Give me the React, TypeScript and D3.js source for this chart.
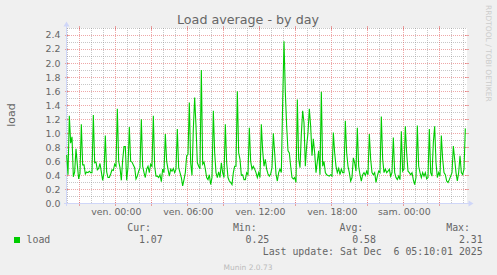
import React from 'react';
import * as d3 from 'd3';

// ---- data ----
const loadValues: number[] = [
  // Thu evening
  0.69, 0.41, 1.25, 0.86, 0.95, 0.38, 0.45, 0.78, 0.55, 0.35, 0.43, 1.13, 0.55, 0.55, 0.42, 0.45, 0.44, 0.46, 0.44, 0.44,
  1.26, 0.58, 0.59, 0.48, 0.5, 0.57, 0.45, 0.33, 0.44, 0.97, 0.45, 0.37, 0.37, 0.42, 0.48, 0.47, 0.56, 0.53, 1.35, 0.6,
  0.51, 0.33, 0.62, 0.81, 0.81, 0.33, 0.52, 1.09, 0.6,
  0.59, 0.55, 0.51, 0.35, 0.39, 0.46, 0.51, 1.2, 0.53, 0.44, 0.37, 0.49, 0.53, 0.44, 0.56, 0.53, 1.25, 0.53, 0.39, 0.39,
  0.37, 0.41, 0.31, 0.49, 0.44, 0.99, 0.6, 0.49, 0.39, 0.49, 0.46, 0.5, 0.44, 0.49, 1.06, 0.51, 0.44, 0.37, 0.25, 0.34,
  0.44, 0.68, 0.7, 1.44, 0.58, 0.4, 1.06, 1.51, 1.1, 0.58, 0.53, 0.49,
  1.9, 0.56, 0.59, 0.49, 0.37, 0.34, 0.41, 0.27, 0.37, 1.32, 0.72, 0.44, 0.37, 0.45, 0.37, 0.58, 0.44, 0.37, 1.13, 0.58,
  0.37, 0.32, 0.3, 0.27, 0.44, 0.53, 0.53, 1.6, 0.72, 0.63, 0.4, 0.41, 0.34, 0.34, 0.44, 0.41, 1.08, 0.6, 0.49, 0.53,
  0.49, 0.44, 0.37, 0.44, 0.37, 1.13, 0.75, 0.53, 0.63, 0.49,
  0.42, 0.39, 0.42, 0.51, 1.0, 0.72, 0.42, 0.32, 0.44, 0.49, 0.44, 1.43, 2.31, 1.58, 1.1, 0.75, 0.72, 0.53, 0.37, 0.35,
  0.37, 0.3, 1.48, 0.63, 0.51, 0.99, 1.32, 1.15, 0.53, 0.82, 1.01, 1.35, 1.1, 0.68, 0.92, 0.72, 0.44, 0.6, 0.75, 0.41,
  1.59, 0.53, 0.6, 0.44, 0.41, 0.4, 0.39, 0.41, 0.39, 1.01, 0.72,
  0.53, 0.44, 0.5, 0.41, 0.49, 0.44, 0.44, 1.18, 0.72, 0.53, 0.44, 0.32, 0.37, 0.65, 0.58, 0.46, 1.08, 0.53, 0.41, 0.32,
  0.41, 0.44, 0.4, 0.46, 0.41, 0.99, 0.63, 0.44, 0.41, 0.44, 0.3, 0.39, 0.46, 0.44, 1.24, 0.63, 0.44, 0.49, 0.44, 0.46,
  0.49, 0.39, 0.44, 0.94, 0.44, 0.37, 0.34, 0.39, 0.34, 1.03, 0.46,
  0.49, 1.1, 0.72, 0.46, 0.44, 0.41, 0.44, 0.34, 0.27, 0.37, 1.11, 0.53, 0.44, 0.37, 0.44, 0.39, 0.44, 0.35, 0.37, 1.06,
  0.44, 0.39, 0.87, 1.1, 0.58, 0.37, 0.44, 0.39, 0.97, 0.63, 0.44, 0.41, 0.32, 0.3, 0.34, 0.39, 0.44, 0.82, 0.63, 0.44,
  0.32, 0.44, 0.68, 0.44, 0.41, 0.49, 1.07,
];
const sampleStart = new Date(2025, 11, 4, 19, 54, 20);
const sampleStepSec = 400;

const viewStart = new Date(2025, 11, 4, 19, 56, 0);
const viewSpanSec = 120000;

const yTicks = [0, 0.2, 0.4, 0.6, 0.8, 1.0, 1.2, 1.4, 1.6, 1.8, 2.0, 2.2, 2.4];
const yMinorTicks = [0.1, 0.3, 0.5, 0.7, 0.9, 1.1, 1.3, 1.5, 1.7, 1.9, 2.1, 2.3, 2.5];
const xTickTimes = [
  new Date(2025, 11, 5, 0), new Date(2025, 11, 5, 6), new Date(2025, 11, 5, 12),
  new Date(2025, 11, 5, 18), new Date(2025, 11, 6, 0),
];
const xTickLabels = ['ven. 00:00', 'ven. 06:00', 'ven. 12:00', 'ven. 18:00', 'sam. 00:00'];

const titleText = 'Load average - by day';
const yAxisTitle = 'load';
const seriesName = 'load';
const legendHeaders = ['Cur:', 'Min:', 'Avg:', 'Max:'];
const legendValues = ['1.07', '0.25', '0.58', '2.31'];
const lastUpdate = 'Last update: Sat Dec  6 05:10:01 2025';
const footer = 'Munin 2.0.73';
const sideText = 'RRDTOOL / TOBI OETIKER';

// ---- layout ----
const W = 497, H = 275;
const X0 = 67, X1 = 467, Y0 = 203.5, YTOP = 28;
const FONT = "'DejaVu Sans', sans-serif";
const MONO = "'DejaVu Sans Mono', monospace";
const FC = '#666666';
const GRID = 'rgba(143,143,143,0.5)';
const MGRID = 'rgba(222,79,79,0.5)';
const AXIS = '#CFD6F8';

export default function App() {
  const viewEnd = new Date(viewStart.getTime() + viewSpanSec * 1000);
  const x = d3.scaleTime().domain([viewStart, viewEnd]).range([X0, X1]);
  const y = d3.scaleLinear().domain([0, 2.5]).range([Y0, YTOP]);
  const px = (v: number) => Math.round(v - 0.5) + 0.5;

  const points = loadValues.map((v, i) => ({
    t: new Date(sampleStart.getTime() + i * sampleStepSec * 1000),
    v,
  }));
  const line = d3.line<{ t: Date; v: number }>().x(d => x(d.t)).y(d => y(d.v));

  const hours = d3.timeHour.range(viewStart, viewEnd);
  const minorHours = hours.filter(h => h.getHours() % 3 !== 0);
  const majorHours = hours.filter(h => h.getHours() % 3 === 0);

  const legendHeaderEnds = [151, 256.7, 363.3, 470];
  const legendValueEnds = [162.7, 269.3, 376, 482.7];

  return (
    <svg width={W} height={H} style={{ position: 'absolute', left: 0, top: 0, display: 'block' }}>
      <rect x={0} y={0} width={W} height={H} fill="#F0F0F0" />
      <rect x={X0} y={YTOP} width={X1 - X0} height={Y0 - YTOP} fill="#FFFFFF" />

      {/* minor grid */}
      <g stroke={GRID} strokeWidth={1} strokeDasharray="1,1" shapeRendering="crispEdges">
        {yMinorTicks.map(t => (
          <line key={'hm' + t} x1={X0} x2={X1} y1={px(y(t))} y2={px(y(t))} />
        ))}
        {minorHours.map(h => (
          <line key={'vm' + h.getTime()} x1={px(x(h))} x2={px(x(h))} y1={YTOP} y2={Y0} />
        ))}
      </g>
      {/* major grid */}
      <g stroke={MGRID} strokeWidth={1} strokeDasharray="1,1" shapeRendering="crispEdges">
        {yTicks.filter(t => t > 0).map(t => (
          <line key={'hM' + t} x1={X0} x2={X1} y1={px(y(t))} y2={px(y(t))} />
        ))}
        {majorHours.map(h => (
          <line key={'vM' + h.getTime()} x1={px(x(h))} x2={px(x(h))} y1={YTOP} y2={Y0} />
        ))}
      </g>
      <g stroke={MGRID} strokeWidth={1} shapeRendering="crispEdges">
        {yTicks.filter(t => t > 0).map(t => (
          <g key={'tk' + t}>
            <line x1={X0 - 2} x2={X0 + 2} y1={px(y(t))} y2={px(y(t))} />
            <line x1={X1 - 2} x2={X1 + 2} y1={px(y(t))} y2={px(y(t))} />
          </g>
        ))}
        {majorHours.map(h => (
          <g key={'tv' + h.getTime()}>
            <line x1={px(x(h))} x2={px(x(h))} y1={Y0 - 2} y2={Y0 + 2} />
            <line x1={px(x(h))} x2={px(x(h))} y1={YTOP - 2} y2={YTOP + 2} />
          </g>
        ))}
      </g>

      {/* axes */}
      <g stroke={AXIS} strokeWidth={1} shapeRendering="crispEdges">
        <line x1={66.5} x2={66.5} y1={26} y2={Y0 + 2} />
        <line x1={64} x2={469} y1={Y0} y2={Y0} />
      </g>
      <path d={`M${66.5},21.5 L${69.5},26.5 L${63.5},26.5 Z`} fill={AXIS} />
      <path d={`M${473.5},${Y0} L${468.5},${Y0 - 3} L${468.5},${Y0 + 3} Z`} fill={AXIS} />

      {/* series */}
      <path d={line(points) || ''} fill="none" stroke="#00CC00" strokeWidth={1.1} />

      {/* y labels */}
      <g fontFamily={FONT} fontSize={9.4} fill={FC} textAnchor="end">
        {yTicks.map(t => (
          <text key={'yl' + t} x={60.5} y={y(t) + 3.4}>{d3.format('.1f')(t)}</text>
        ))}
      </g>
      {/* x labels */}
      <g fontFamily={FONT} fontSize={9.4} fill={FC} textAnchor="middle">
        {xTickTimes.map((t, i) => (
          <text key={'xl' + i} x={x(t) + 0.5} y={215.3}>{xTickLabels[i]}</text>
        ))}
      </g>

      {/* title */}
      <text x={248} y={24} textAnchor="middle" fontFamily={FONT} fontSize={12.7} fill={FC}>{titleText}</text>
      {/* y axis title */}
      <text transform="translate(15,115) rotate(-90)" textAnchor="middle" fontFamily={FONT} fontSize={11} fill={FC}>{yAxisTitle}</text>
      {/* side text */}
      <text transform="translate(485.5,5) rotate(90)" fontFamily={FONT} fontSize={7.5} fill="#CCCCCC">{sideText}</text>

      {/* legend */}
      <g fontFamily={MONO} fontSize={9.9} fill={FC} style={{ whiteSpace: 'pre' }}>
        {legendHeaders.map((h, i) => (
          <text key={'lh' + i} x={legendHeaderEnds[i]} y={230.8} textAnchor="end">{h}</text>
        ))}
        <rect x={14} y={237} width={6} height={6} fill="#00CC00" />
        <text x={26.5} y={243}>{seriesName}</text>
        {legendValues.map((v, i) => (
          <text key={'lv' + i} x={legendValueEnds[i]} y={243} textAnchor="end">{v}</text>
        ))}
        <text x={482.7} y={255.3} textAnchor="end" xmlSpace="preserve">{lastUpdate}</text>
      </g>
      <text x={248} y={269.5} textAnchor="middle" fontFamily={FONT} fontSize={7.5} fill="#BBBBBB">{footer}</text>
    </svg>
  );
}
